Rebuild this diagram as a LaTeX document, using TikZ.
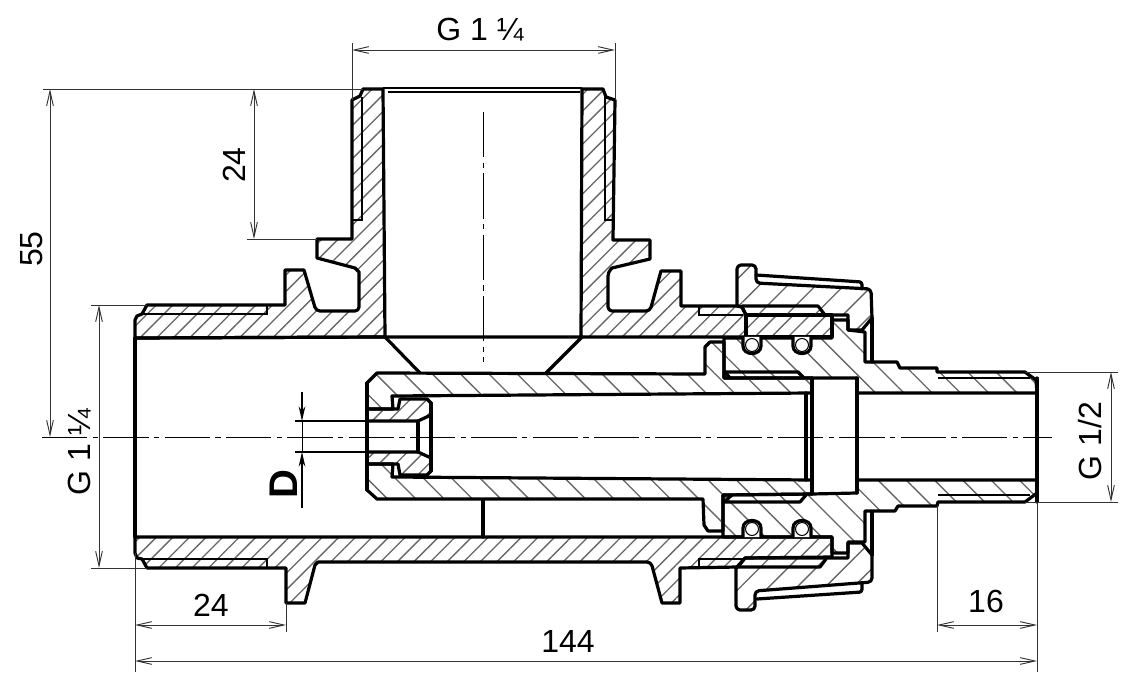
\documentclass[tikz,border=0pt]{standalone}
\usepackage{fontspec}
\setmainfont{Liberation Sans}
\usetikzlibrary{arrows.meta, patterns.meta}

\tikzset{
  cutline/.style={line width=2.4pt, line join=round, line cap=round},
  thinline/.style={line width=0.8pt},
  axisline/.style={line width=0.7pt, dash pattern=on 34pt off 4pt on 4pt off 4pt},
  dimline/.style={line width=0.7pt, black!80},
  dimarrow/.style={dimline, {Straight Barb[length=11pt,width=5pt]}-{Straight Barb[length=11pt,width=5pt]}},
  dimtext/.style={font=\fontsize{24}{24}\selectfont, inner sep=0pt},
  hatchbody/.style={pattern={Lines[angle=45,distance=8.8pt,line width=1pt]}, pattern color=black!60},
  hatchnut/.style={pattern={Lines[angle=45,distance=15pt,line width=1pt]}, pattern color=black!60},
  hatchtube/.style={pattern={Lines[angle=-45,distance=15pt,line width=1pt]}, pattern color=black!60}
}

\begin{document}
\begin{tikzpicture}[x=0.75pt, y=-0.75pt]
\useasboundingbox (0,0) rectangle (1122,677);

% fitting, upper and lower half
\draw[cutline, hatchtube] (724,338) -- (832,338) -- (832,320) -- (848,320) -- (848,330) -- (865,332) -- (865,362) -- (897,362) -- (900,368) -- (937,368) -- (937,372) -- (1025,372) -- (1036,380) -- (1037,393) -- (857,393) -- (857,378) -- (724,378) -- cycle;
\draw[cutline, hatchtube] (857,480) -- (1037,480) -- (1037,493) -- (1025,502) -- (938,502) -- (937,506) -- (898,506) -- (895,511) -- (865,511) -- (865,542) -- (848,542) -- (848,553) -- (832,553) -- (832,537) -- (723,537) -- (723,495) -- (812,494) -- (857,493) -- cycle;

% inner tube
\draw[cutline, hatchtube] (367,409) -- (367,383) -- (377,373) -- (705,374) -- (705,347) -- (710,342) -- (724,342) -- (724,378) -- (812,378) -- (812,393) -- (392,396) -- (393,409) -- cycle;
\draw[cutline, hatchtube] (367,464) -- (367,490) -- (377,499) -- (703,499) -- (704,525) -- (708,531) -- (723,531) -- (723,495) -- (812,494) -- (812,480) -- (392,477) -- (393,464) -- cycle;
\draw[cutline] (725,372) -- (798,372) -- (803,377);
\draw[cutline] (725,372) -- (730,378);
\draw[cutline] (724,502) -- (800,502) -- (806,495);
\draw[cutline] (724,502) -- (732,495);
\draw[cutline] (812,378) -- (812,494);
\draw[cutline] (806,393) -- (806,480);
\draw[cutline] (857,378) -- (857,493);
\draw[cutline] (1037,378) -- (1037,502);

% nozzle insert
\draw[cutline, hatchbody] (367,409) -- (398,409) -- (400,399) -- (427,399) -- (431,403) -- (431,415) -- (418,421) -- (367,421) -- cycle;
\draw[cutline, hatchbody] (367,464) -- (398,464) -- (400,475) -- (427,475) -- (431,471) -- (431,458) -- (418,452) -- (367,452) -- cycle;
\draw[cutline] (431,403) -- (431,471);
\draw[cutline] (418,421) -- (418,452);
\draw[cutline] (367,383) -- (367,490);

% T body, upper part
\draw[cutline, hatchbody] (135,338) -- (135,320) -- (137,316) -- (142,314) -- (147,305) -- (285,305) -- (285,270) -- (304,270) [rounded corners=3pt] -- (316,311) -- (359,311) [sharp corners] -- (359,272) -- (355,268) -- (317,258) -- (317,239) -- (352,239) -- (352,100) -- (360,96) -- (363,89) -- (383,89) -- (385,337) -- cycle;
\draw[cutline, hatchbody] (581,337) -- (582,89) -- (603,89) -- (606,97) -- (615,100) -- (613,240) -- (650,240) -- (650,259) -- (612,268) [rounded corners=3pt] -- (608,272) -- (608,311) -- (650,311) [sharp corners] -- (661,271) -- (681,271) -- (681,306) -- (737,306) -- (742,307) -- (746,315) -- (746,337) -- cycle;
\draw[cutline, hatchbody] (746,315) -- (832,315) -- (832,337) -- (746,337) -- cycle;
\draw[cutline] (385,337) -- (581,337) (385,337) -- (135,338);
\draw[line width=1.2pt] (383,88) -- (582,88);
\draw[line width=1.2pt] (388,92) -- (580,92);
\draw[cutline] (385,337) -- (420,373);
\draw[cutline] (582,337) -- (546,373);

% T body, lower part
\draw[cutline, hatchbody] (135,537) -- (832,537) -- (832,557) -- (745,558) -- (738,567) -- (680,568) -- (680,603) -- (662,603) [rounded corners=3pt] -- (651,562) [sharp corners] -- (647,562) -- (318,562) -- (315,565) -- (305,603) -- (286,603) -- (286,568) -- (147,568) -- (142,559) -- (137,558) -- (135,553) -- cycle;
\draw[cutline] (135,338) -- (135,537);
\draw[cutline] (483,500) -- (483,537);

% thread run-outs
\draw[thinline] (143,314) -- (267,314) -- (267,305);
\draw[thinline] (143,559) -- (267,559) -- (267,568);
\draw[thinline] (362,97) -- (362,220) -- (352,220);
\draw[thinline] (605,97) -- (605,220) -- (614,220);
\draw[thinline] (699,306) -- (699,315) -- (743,315);
\draw[thinline] (699,568) -- (699,559) -- (745,559);
\draw[thinline] (938,378) -- (1030,378);
\draw[thinline] (938,495) -- (1030,495);

% union nut
\draw[cutline, hatchnut] (737,306) [rounded corners=3pt] -- (737,265) -- (756,265) -- (756,283) -- (871,289) [sharp corners] -- (872,318) -- (862,330) -- (848,330) -- (848,315) -- (746,315) -- (742,307) -- cycle;
\draw[cutline, hatchnut] (736,568) [rounded corners=3pt] -- (736,610) -- (755,610) -- (755,591) -- (872,582) [sharp corners] -- (872,555) -- (862,543) -- (848,543) -- (848,558) -- (745,558) -- cycle;
\draw[cutline] (742,306) -- (818,306) -- (825,315);
\draw[cutline] (738,567) -- (820,567) -- (826,559);
\draw[cutline, rounded corners=2pt] (756,275) -- (862,282) -- (862,289);
\draw[cutline, rounded corners=2pt] (757,599) -- (862,592) -- (862,584);
\draw[cutline] (872,318) -- (872,362);
\draw[cutline] (872,512) -- (872,555);

% o-rings
\foreach \ox in {752,802} {
  \draw[cutline, fill=white] (\ox-9,337) -- (\ox-9,346) .. controls (\ox-9,356) and (\ox+9,356) .. (\ox+9,346) -- (\ox+9,337);
  \draw[thinline] (\ox,345) circle (6.5);
  \draw[cutline, fill=white] (\ox-9,537) -- (\ox-9,528) .. controls (\ox-9,518) and (\ox+9,518) .. (\ox+9,528) -- (\ox+9,537);
  \draw[thinline] (\ox,529) circle (6.5);
}

% axes
\draw[axisline] (42,437) -- (1052,437);
\draw[axisline] (483,112) -- (483,362);

% G 1 1/4 top
\coordinate (topL) at (352,50);
\coordinate (topR) at (615,50);
\draw[dimline] (352,43) -- (352,100);
\draw[dimline] (615,43) -- (615,100);
\draw[dimarrow] (topL) -- (topR);
\node[dimtext] (topG) at (480,30) {G 1 ¼};

% 55
\coordinate (h55T) at (50,89);
\coordinate (h55B) at (50,437);
\draw[dimline] (43,89) -- (363,89);
\draw[dimarrow] (h55T) -- (h55B);
\node[dimtext, rotate=90] (txt55) at (32,249) {55};

% 24 on the branch
\coordinate (h24T) at (254,89);
\coordinate (h24B) at (254,239);
\draw[dimline] (247,239) -- (317,239);
\draw[dimarrow] (h24T) -- (h24B);
\node[dimtext, rotate=90] (txt24v) at (234,165) {24};

% G 1 1/4 left
\coordinate (leftT) at (99,305);
\coordinate (leftB) at (99,568);
\draw[dimline] (91,305) -- (147,305);
\draw[dimline] (91,568) -- (147,568);
\draw[dimarrow] (leftT) -- (leftB);
\node[dimtext, rotate=90] (leftG) at (80,452) {G 1 ¼};

% G 1/2
\coordinate (rightT) at (1111,372);
\coordinate (rightB) at (1111,502);
\draw[dimline] (1025,372) -- (1118,372);
\draw[dimline] (1025,502) -- (1118,502);
\draw[dimarrow] (rightT) -- (rightB);
\node[dimtext, rotate=90] (rightG) at (1090,441) {G 1/2};

% 24, 144 and 16 below
\coordinate (w24L) at (135,625);
\coordinate (w24R) at (286,625);
\coordinate (w144L) at (135,661);
\coordinate (w144R) at (1037,661);
\coordinate (w16L) at (937,625);
\coordinate (w16R) at (1037,625);
\draw[dimline] (135,553) -- (135,672);
\draw[dimline] (286,603) -- (286,632);
\draw[dimline] (937,505) -- (937,632);
\draw[dimline] (1037,502) -- (1037,672);
\draw[dimarrow] (w24L) -- (w24R);
\draw[dimarrow] (w144L) -- (w144R);
\draw[dimarrow] (w16L) -- (w16R);
\node[dimtext] (txt24h) at (211,605) {24};
\node[dimtext] (txt144) at (568,641) {144};
\node[dimtext] (txt16) at (986,601) {16};

% D
\coordinate (boreT) at (302,421);
\coordinate (boreB) at (302,452);
\coordinate (boreTo) at (302,392);
\coordinate (boreBo) at (302,508);
\draw[line width=1.2pt] (295,421) -- (367,421);
\draw[line width=1.2pt] (295,452) -- (367,452);
\draw[dimline, black] (boreT) -- (boreB);
\draw[line width=0.8pt, -{Stealth[length=11pt,width=5pt]}] (boreTo) -- (boreT);
\draw[line width=0.8pt, -{Stealth[length=11pt,width=5pt]}] (boreBo) -- (boreB);
\node[font=\fontsize{30}{30}\selectfont\bfseries, inner sep=0pt, rotate=90] (txtD) at (284,484) {D};
\end{tikzpicture}
\end{document}
